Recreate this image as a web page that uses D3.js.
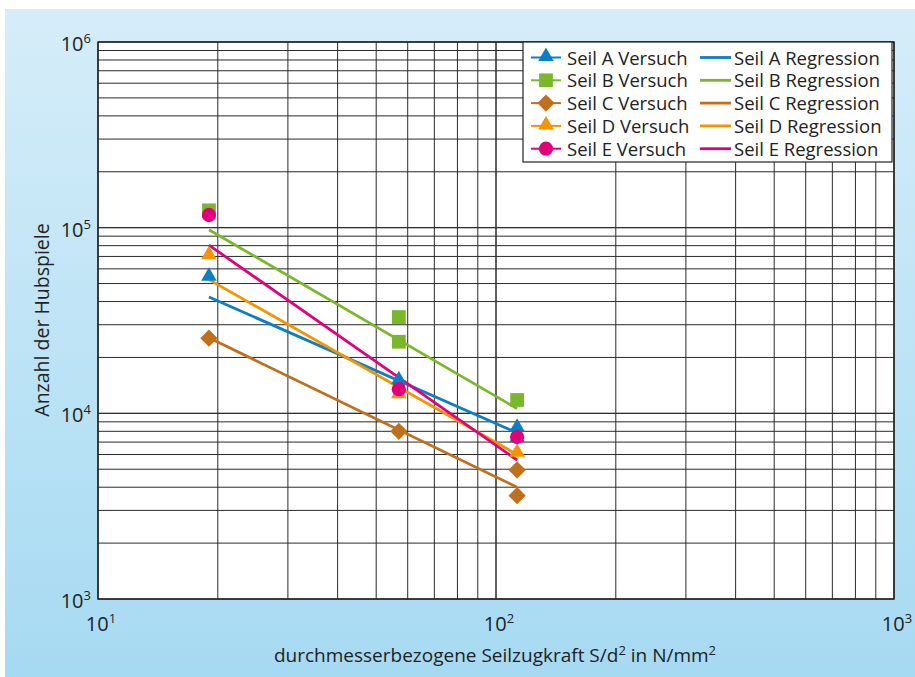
<!DOCTYPE html>
<html>
<head>
<meta charset="utf-8">
<script src="https://cdn.jsdelivr.net/npm/d3@7"></script>
<style>
  html, body { margin: 0; padding: 0; background: #fff; }
  svg { display: block; font-family: "Open Sans", sans-serif; }
</style>
</head>
<body>
<svg id="chart" width="915" height="677"></svg>
<script>
// ---- data ----
const seriesNames = ["Seil A", "Seil B", "Seil C", "Seil D", "Seil E"];
const seriesColors = ["#0b7fc3", "#7ab829", "#c0701d", "#f39400", "#e2007a"];
const seriesSymbols = ["triangle", "square", "diamond", "triangle", "circle"];

// test points (S/d² in N/mm², number of bending cycles)
const versuchA = [[19, 54000], [57, 15000], [113, 8300], [113, 7300]];
const versuchB = [[19, 124000], [57, 33000], [57, 24300], [113, 11800]];
const versuchC = [[19, 25400], [57, 8000], [113, 4950], [113, 3600]];
const versuchD = [[19, 70500], [57, 12600], [113, 6100]];
const versuchE = [[19, 117000], [57, 13500], [113, 7450]];

// regression lines (start / end)
const regressionA = [[19, 42300], [113, 7850]];
const regressionB = [[19, 97500], [113, 10600]];
const regressionC = [[19, 25500], [113, 4000]];
const regressionD = [[19, 52500], [113, 6000]];
const regressionE = [[19, 80500], [113, 5600]];

const xTickExps = [1, 2, 3];
const yTickExps = [3, 4, 5, 6];
const xTitle = ["durchmesserbezogene Seilzugkraft S/d", "2", " in N/mm", "2"];
const yTitle = "Anzahl der Hubspiele";

const versuch = [versuchA, versuchB, versuchC, versuchD, versuchE];
const regression = [regressionA, regressionB, regressionC, regressionD, regressionE];

// ---- layout ----
const svg = d3.select("#chart");
const W = 915, H = 677;
const plot = { left: 98, right: 894, top: 42, bottom: 599 };

const defs = svg.append("defs");
const grad = defs.append("linearGradient").attr("id", "bg").attr("x1", 0).attr("y1", 0).attr("x2", 0).attr("y2", 1);
grad.append("stop").attr("offset", "0%").attr("stop-color", "#d6edf9");
grad.append("stop").attr("offset", "100%").attr("stop-color", "#a6daf2");

svg.append("rect").attr("x", 5).attr("y", 9).attr("width", W - 5).attr("height", H - 9).attr("fill", "url(#bg)");

const x = d3.scaleLog().domain([10, 1000]).range([plot.left, plot.right]);
const y = d3.scaleLog().domain([1000, 1e6]).range([plot.bottom, plot.top]);

svg.append("rect").attr("x", plot.left).attr("y", plot.top)
  .attr("width", plot.right - plot.left).attr("height", plot.bottom - plot.top)
  .attr("fill", "#fff");

// grid
const xGrid = [];
for (let d = 10; d < 1000; d *= 10) for (let m = 1; m <= 10; m++) xGrid.push(d * m);
const yGrid = [];
for (let d = 1000; d < 1e6; d *= 10) for (let m = 1; m <= 10; m++) yGrid.push(d * m);

const g = svg.append("g");
g.selectAll("line.vx").data(xGrid).join("line")
  .attr("x1", d => x(d)).attr("x2", d => x(d))
  .attr("y1", plot.top).attr("y2", plot.bottom)
  .attr("stroke", "#2a2a2a").attr("stroke-width", 1);
g.selectAll("line.hy").data(yGrid).join("line")
  .attr("y1", d => y(d)).attr("y2", d => y(d))
  .attr("x1", plot.left).attr("x2", plot.right)
  .attr("stroke", "#2a2a2a").attr("stroke-width", 1);

svg.append("rect").attr("x", plot.left).attr("y", plot.top)
  .attr("width", plot.right - plot.left).attr("height", plot.bottom - plot.top)
  .attr("fill", "none").attr("stroke", "#222").attr("stroke-width", 1.5);

// tick labels
const xl = svg.append("g");
xTickExps.forEach(e => {
  const t = xl.append("text").attr("x", x(Math.pow(10, e)) + 3).attr("y", 631)
    .attr("text-anchor", "middle").attr("font-size", 20).attr("fill", "#222");
  t.append("tspan").text("10");
  t.append("tspan").attr("font-size", 13).attr("dy", -8).text(e);
});
yTickExps.forEach(e => {
  const t = xl.append("text").attr("x", 91).attr("y", y(Math.pow(10, e)) + 9)
    .attr("text-anchor", "end").attr("font-size", 20).attr("fill", "#222");
  t.append("tspan").text("10");
  t.append("tspan").attr("font-size", 13).attr("dy", -8).text(e);
});

// axis titles
const xt = svg.append("text").attr("x", 495).attr("y", 662).attr("text-anchor", "middle")
  .attr("font-size", 19).attr("fill", "#222");
xt.append("tspan").text(xTitle[0]);
xt.append("tspan").attr("font-size", 13).attr("dy", -7).text(xTitle[1]);
xt.append("tspan").attr("dy", 7).text(xTitle[2]);
xt.append("tspan").attr("font-size", 13).attr("dy", -7).text(xTitle[3]);

svg.append("text").attr("transform", "translate(49,320) rotate(-90)")
  .attr("text-anchor", "middle").attr("font-size", 19.5).attr("fill", "#222").text(yTitle);

// regression lines
const line = d3.line().x(d => x(d[0])).y(d => y(d[1]));
regression.forEach((r, i) => {
  svg.append("path").attr("d", line(r)).attr("fill", "none")
    .attr("stroke", seriesColors[i]).attr("stroke-width", 2.8);
});

// markers
const symMap = { triangle: d3.symbolTriangle, square: d3.symbolSquare, diamond: d3.symbolSquare, circle: d3.symbolCircle };
const symSize = { triangle: 105, square: 190, diamond: 150, circle: 160 };
function drawSym(sel, type, color, cx, cy) {
  const p = sel.append("path")
    .attr("d", d3.symbol().type(symMap[type]).size(symSize[type])())
    .attr("fill", color);
  let tr = `translate(${cx},${cy})`;
  if (type === "diamond") tr += " rotate(45)";
  if (type === "triangle") tr += " translate(0,-1)";
  p.attr("transform", tr);
  return p;
}
const mk = svg.append("g");
versuch.forEach((pts, i) => {
  pts.forEach(p => drawSym(mk, seriesSymbols[i], seriesColors[i], x(p[0]), y(p[1])));
});

// legend
const lg = svg.append("g");
lg.append("rect").attr("x", 523).attr("y", 42).attr("width", 369).attr("height", 120)
  .attr("fill", "#fff").attr("stroke", "#222").attr("stroke-width", 1.2);
seriesNames.forEach((n, i) => {
  const cy = 57.5 + i * 22.8;
  lg.append("line").attr("x1", 531).attr("x2", 561).attr("y1", cy).attr("y2", cy)
    .attr("stroke", seriesColors[i]).attr("stroke-width", 2);
  drawSym(lg, seriesSymbols[i], seriesColors[i], 546, cy);
  lg.append("text").attr("x", 567).attr("y", cy + 7).attr("font-size", 18.5).attr("fill", "#222")
    .text(n + " Versuch");
  lg.append("line").attr("x1", 700).attr("x2", 731).attr("y1", cy).attr("y2", cy)
    .attr("stroke", seriesColors[i]).attr("stroke-width", 2.8);
  lg.append("text").attr("x", 734).attr("y", cy + 7).attr("font-size", 18.5).attr("fill", "#222")
    .text(n + " Regression");
});
</script>
</body>
</html>
